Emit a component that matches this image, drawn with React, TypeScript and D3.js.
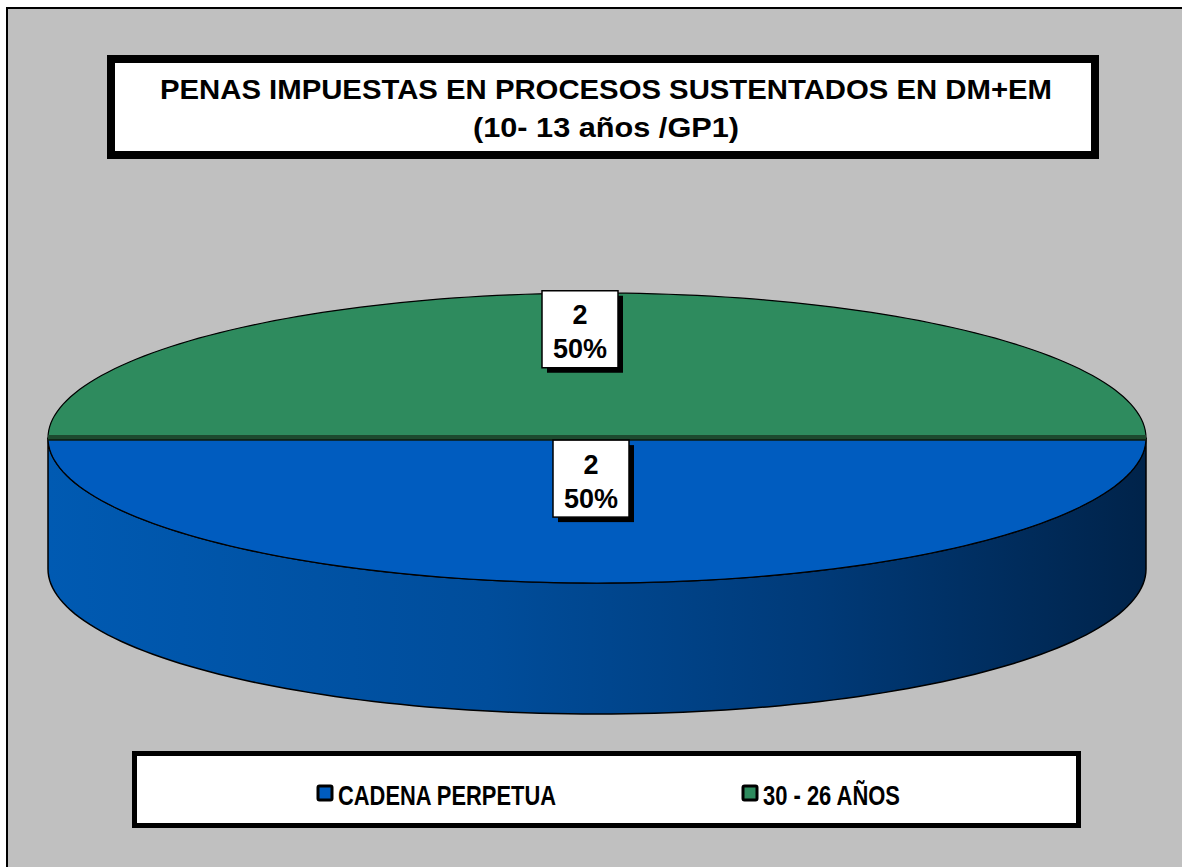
import { useMemo } from "react";
import * as d3 from "d3";

const categories = ["CADENA PERPETUA", "30 - 26 AÑOS"];
const counts = [2, 2];
const sliceColors = ["#005cbf", "#2e8b5e"];
const titleLines = [
  "PENAS IMPUESTAS EN PROCESOS SUSTENTADOS EN DM+EM",
  "(10- 13 años /GP1)",
];

const W = 1182;
const H = 867;
const FONT = "'Liberation Sans', Arial, sans-serif";
const NARROW = "'Liberation Sans Narrow', 'Liberation Sans', Arial, sans-serif";

// ellipse geometry of the 3D pie
const cx = 597;
const cy = 438;
const rx = 549;
const ry = 145;
const depth = 131;

const pt = (t: number, dy = 0): [number, number] => [
  cx + rx * Math.cos(t),
  cy + dy + ry * Math.sin(t),
];

const arcPts = (t0: number, t1: number, dy = 0) => {
  const n = 120;
  return d3.range(n + 1).map((i) => pt(t0 + ((t1 - t0) * i) / n, dy));
};

const line = d3.line<[number, number]>();

export default function App() {
  const slices = useMemo(() => {
    const total = d3.sum(counts);
    return d3
      .pie<number>()
      .sort(null)
      .startAngle(Math.PI / 2)
      .endAngle(Math.PI / 2 + 2 * Math.PI)(counts)
      .map((s, i) => {
        const t0 = s.startAngle - Math.PI / 2;
        const t1 = s.endAngle - Math.PI / 2;
        return {
          i,
          t0,
          t1,
          mid: (t0 + t1) / 2,
          value: s.data,
          pct: Math.round((s.data / total) * 100),
        };
      });
  }, []);

  // label placement: radial factor and small horizontal nudge, like Excel
  const labelFactor = [0.28, 0.75];
  const labelNudge = [-6, -17];

  const legendX = d3.scalePoint<string>().domain(categories).range([317, 742]);

  return (
    <div style={{ position: "absolute", left: 0, top: 0 }}>
      <svg width={W} height={H} style={{ display: "block" }}>
        <defs>
          <linearGradient id="sideGrad" x1="0" x2="1" y1="0" y2="0">
            <stop offset="0" stopColor="#005ab2" />
            <stop offset="0.4" stopColor="#004d9b" />
            <stop offset="0.7" stopColor="#003a78" />
            <stop offset="1" stopColor="#00234a" />
          </linearGradient>
        </defs>
        <rect x={0} y={0} width={W} height={H} fill="#fff" />
        <rect x={7} y={8} width={W + 10} height={H + 10} fill="#c0c0c0" stroke="#000" strokeWidth={2} />

        {/* title */}
        <rect x={111} y={59} width={984} height={96} fill="#fff" stroke="#000" strokeWidth={8} />
        {titleLines.map((t, i) => (
          <text
            key={t}
            x={606}
            y={99 + i * 38}
            textAnchor="middle"
            fontFamily={FONT}
            fontWeight="bold"
            fontSize={28}
            fill="#000"
            textLength={i === 0 ? 892 : 266}
            lengthAdjust="spacingAndGlyphs"
          >
            {t}
          </text>
        ))}

        {/* side wall of front slice */}
        {slices
          .filter((s) => s.t0 < Math.PI && s.t1 > 0)
          .map((s) => {
            const a = Math.max(s.t0, 0);
            const b = Math.min(s.t1, Math.PI);
            const pts = [...arcPts(a, b), ...arcPts(b, a, depth)];
            return (
              <path
                key={"side" + s.i}
                d={line(pts) + "Z"}
                fill="url(#sideGrad)"
                stroke="#000"
                strokeWidth={1.5}
              />
            );
          })}

        {/* top faces */}
        {slices.map((s) => {
          const pts: [number, number][] = [[cx, cy], ...arcPts(s.t0, s.t1)];
          return (
            <path
              key={"top" + s.i}
              d={line(pts) + "Z"}
              fill={sliceColors[s.i]}
              stroke="#000"
              strokeWidth={1.2}
            />
          );
        })}

        {/* dark seam between slices */}
        <rect x={cx - rx} y={cy - 3} width={rx * 2} height={5} fill="#1d4a2f" />
        <line x1={cx - rx} x2={cx + rx} y1={cy + 2} y2={cy + 2} stroke="#0b1a10" strokeWidth={1.5} />

        {/* labels */}
        {slices.map((s) => {
          const f = labelFactor[s.i];
          const lx = cx + labelNudge[s.i] + rx * f * Math.cos(s.mid);
          const ly = cy + ry * f * Math.sin(s.mid);
          const bw = 76;
          const bh = 77;
          return (
            <g key={"lab" + s.i} transform={`translate(${lx},${ly})`}>
              <rect x={-bw / 2 + 5} y={-bh / 2 + 5} width={bw} height={bh} fill="#000" />
              <rect x={-bw / 2} y={-bh / 2} width={bw} height={bh} fill="#fff" stroke="#000" strokeWidth={1.5} />
              <text y={-5} textAnchor="middle" fontFamily={FONT} fontWeight="bold" fontSize={27} fill="#000">
                {s.value}
              </text>
              <text y={29} textAnchor="middle" fontFamily={FONT} fontWeight="bold" fontSize={27} fill="#000">
                {s.pct}%
              </text>
            </g>
          );
        })}

        {/* legend */}
        <rect x={134.5} y={753.5} width={944} height={72} fill="#fff" stroke="#000" strokeWidth={5} />
        {categories.map((c, i) => {
          const x = legendX(c) as number;
          return (
            <g key={c}>
              <rect x={x + 1} y={786} width={14} height={14} fill={sliceColors[i]} stroke="#000" strokeWidth={3} rx={1.5} />
              <text
                x={x + 21}
                y={805}
                fontFamily={NARROW}
                fontWeight="bold"
                fontSize={28}
                fill="#000"
                textLength={i === 0 ? 218 : 137}
                lengthAdjust="spacingAndGlyphs"
              >
                {c}
              </text>
            </g>
          );
        })}
      </svg>
    </div>
  );
}
